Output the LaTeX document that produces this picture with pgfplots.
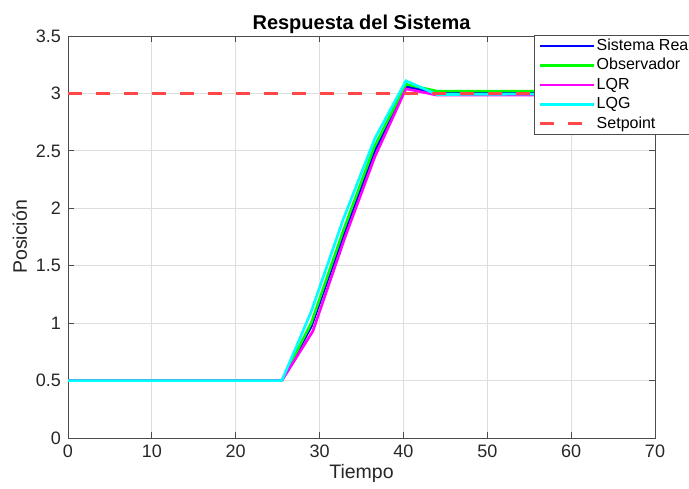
\documentclass[border=0pt]{standalone}
\usepackage{fontspec}
\setmainfont{Liberation Sans}
\usepackage{pgfplots}
\pgfplotsset{compat=1.18}
\definecolor{spred}{RGB}{255,72,72}
\definecolor{cblue}{RGB}{0,0,255}
\definecolor{cgreen}{RGB}{0,255,0}
\definecolor{cmag}{RGB}{255,0,255}
\definecolor{ccyan}{RGB}{0,255,255}
\begin{document}
\begin{tikzpicture}
\begin{axis}[
 name=ax,
 width=293.5pt, height=201pt, scale only axis,
 xmin=0,xmax=70,ymin=0,ymax=3.5,
 xtick={0,10,...,70}, ytick={0,0.5,1,1.5,2,2.5,3,3.5},
 yticklabels={0,0.5,1,1.5,2,2.5,3,3.5},
 grid=major, grid style={black!13, line width=0.4pt},
 axis line style={black!70, line width=0.45pt},
 tick style={black!70, line width=0.45pt}, tick align=inside, major tick length=3pt,
 ticklabel style={font=\fontsize{9}{10}\selectfont, text=black!85},
 /pgf/number format/assume math mode=true,
 title={\bfseries Respuesta del Sistema},
 title style={font=\fontsize{10}{12}\selectfont, yshift=-8.5pt},
 xlabel={Tiempo}, ylabel={Posición},
 label style={font=\fontsize{9.75}{11}\selectfont, text=black!85},
 xlabel style={yshift=3.5pt},
 ylabel style={yshift=-2.5pt},
 legend cell align=left,
 legend style={at={(0.794,1.002)}, anchor=north west, draw=black!70, line width=0.45pt,
   font=\fontsize{8}{9}\selectfont, inner xsep=2pt, inner ysep=0.6pt, row sep=0.5pt,
   nodes={inner sep=0.8pt, text height=6pt, text depth=1.6pt}},
 legend image code/.code={\draw[#1] (0pt,0pt) -- (27pt,0pt);},
]
\addplot[cblue, line width=1.3pt] coordinates {(0,0.5)(25.5,0.5)(29,0.97)(32.8,1.76)(36.5,2.49)(40.3,3.06)(44,3.0)(70,3.0)};
\addlegendentry{Sistema Real}
\addplot[cgreen, line width=1.3pt] coordinates {(0,0.5)(25.5,0.5)(29,1.0)(32.8,1.8)(36.5,2.53)(40.3,3.08)(44,3.02)(70,3.02)};
\addlegendentry{Observador}
\addplot[cmag, line width=1.3pt] coordinates {(0,0.5)(25.5,0.5)(29.2,0.93)(33,1.74)(36.6,2.45)(40.3,3.04)(44,2.985)(70,2.985)};
\addlegendentry{LQR}
\addplot[ccyan, line width=1.3pt] coordinates {(0,0.5)(25.5,0.5)(29,1.1)(32.8,1.9)(36.6,2.61)(40.3,3.11)(44,2.99)(70,3.0)};
\addlegendentry{LQG}
\addplot[spred, line width=1.3pt, dash pattern=on 7pt off 7pt] coordinates {(0,3)(70,3)};
\addlegendentry{Setpoint}
\coordinate (bl) at (rel axis cs:0,0);
\coordinate (tr) at (rel axis cs:1,1);
\end{axis}
\pgfresetboundingbox
\path[use as bounding box] ([shift={(-34pt,-25.5pt)}]bl) rectangle ([shift={(17pt,18pt)}]tr);
\end{tikzpicture}
\end{document}
